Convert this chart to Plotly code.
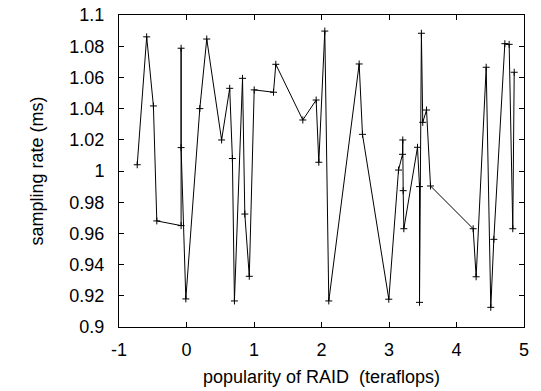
import plotly.graph_objects as go

x_vals = [-0.73, -0.59, -0.49, -0.44, -0.08, -0.08, -0.08, -0.01, 0.197, 0.30, 0.52, 0.64, 0.68, 0.71,
          0.83, 0.864, 0.93, 1.003, 1.289, 1.323, 1.723, 1.921, 1.96, 2.049, 2.108, 2.558, 2.607,
          2.997, 3.141, 3.20, 3.204, 3.21, 3.22, 3.422, 3.452, 3.452, 3.48, 3.50, 3.556, 3.615,
          4.247, 4.291, 4.44, 4.508, 4.553, 4.716, 4.78, 4.834, 4.855]
y_vals = [1.004, 1.086, 1.0417, 0.968, 0.965, 1.0787, 1.015, 0.918, 1.040, 1.0846, 1.0199, 1.053, 1.008, 0.9167,
          1.0594, 0.9724, 0.9325, 1.052, 1.0505, 1.0684, 1.0327, 1.0455, 1.0056, 1.0897, 0.9167, 1.0686, 1.0235,
          0.9178, 1.0006, 1.0107, 1.0199, 0.9874, 0.963, 1.0152, 0.990, 0.9158, 1.0883, 1.0312, 1.0391, 0.9904,
          0.963, 0.9322, 1.0665, 0.9126, 0.9562, 1.0816, 1.0812, 0.963, 1.0633]

x_ticks = [-1, 0, 1, 2, 3, 4, 5]
y_ticks = [0.9, 0.92, 0.94, 0.96, 0.98, 1.0, 1.02, 1.04, 1.06, 1.08, 1.1]
y_labels = ["0.9", "0.92", "0.94", "0.96", "0.98", "1", "1.02", "1.04", "1.06", "1.08", "1.1"]

fig = go.Figure()
fig.add_trace(go.Scatter(
    x=x_vals, y=y_vals, mode="lines+markers",
    line=dict(color="black", width=1),
    marker=dict(symbol="cross-thin", size=5, color="black", line=dict(color="black", width=1)),
    showlegend=False,
))

font = dict(family="Liberation Sans, Arial, sans-serif", size=18, color="black")
fig.update_layout(
    width=541, height=391,
    margin=dict(l=119, r=17, t=15, b=64),
    paper_bgcolor="white", plot_bgcolor="white",
    font=font,
    xaxis=dict(
        range=[-1, 5], tickvals=x_ticks, ticktext=[str(v) for v in x_ticks],
        ticks="inside", ticklen=5, tickcolor="black", tickwidth=1,
        showline=True, linecolor="black", linewidth=1, mirror="ticks",
        showgrid=False, zeroline=False, automargin=False,
        title=dict(text="popularity of RAID\u00a0 (teraflops)", standoff=11, font=font),
        ticklabelstandoff=6,
    ),
    yaxis=dict(
        range=[0.9, 1.1], tickvals=y_ticks, ticktext=y_labels,
        ticks="inside", ticklen=5, tickcolor="black", tickwidth=1,
        showline=True, linecolor="black", linewidth=1, mirror="ticks",
        showgrid=False, zeroline=False, automargin=False,
        title=dict(text="sampling rate (ms)", standoff=21, font=font),
        ticklabelstandoff=10,
    ),
)

fig.write_html("out.html")
